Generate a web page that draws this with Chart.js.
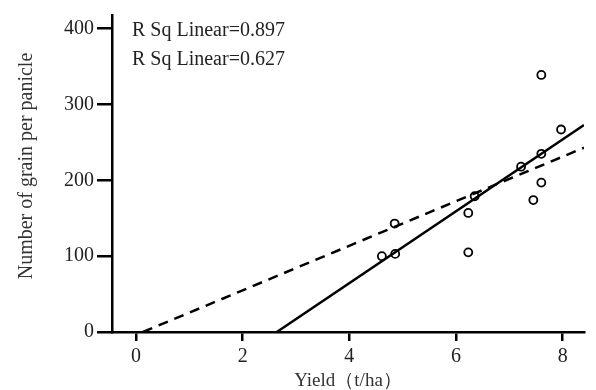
<!DOCTYPE html>
<html>
<head>
<meta charset="utf-8">
<script src="https://cdn.jsdelivr.net/npm/chart.js@4.4.1/dist/chart.umd.min.js"></script>
<style>
    body { margin: 0; background: #fff; }
    #wrap { position: relative; width: 596px; height: 390px; }
</style>
</head>
<body>
<div id="wrap"><canvas id="chart"></canvas></div>
<script>
// observed points (yield t/ha, grains per panicle)
const yieldValues = [4.61, 4.86, 4.85, 6.23, 6.23, 6.35, 7.22, 7.45, 7.6, 7.6, 7.97, 7.6];
const grainValues = [100, 103, 143, 105, 157, 179, 218, 174, 197, 235, 267, 339];

// fitted lines, end points
const solidFitX = [2.64, 8.4];
const solidFitY = [0, 273];
const dashedFitX = [0.13, 8.4];
const dashedFitY = [0, 243];

const rSqLabels = ['R Sq Linear=0.897', 'R Sq Linear=0.627'];
const xTitle = 'Yield（t/ha）';
const yTitle = 'Number of grain per panicle';

const serif = '"Liberation Serif", "Times New Roman", "DejaVu Serif", serif';

const toPoints = (xs, ys) => xs.map((x, i) => ({ x: x, y: ys[i] }));

const textPlugin = {
    id: 'textPlugin',
    afterDraw(chart) {
        const ctx = chart.ctx;
        const area = chart.chartArea;
        ctx.save();
        ctx.fillStyle = '#222';
        ctx.font = '20px ' + serif;
        ctx.textAlign = 'left';
        ctx.textBaseline = 'alphabetic';
        ctx.fillText(rSqLabels[0], 132, 36);
        ctx.fillText(rSqLabels[1], 132, 65);

        ctx.fillStyle = '#333';
        ctx.font = '19px ' + serif;
        ctx.textAlign = 'center';
        ctx.fillText(xTitle, (area.left + area.right) / 2, 386);

        ctx.font = '20px ' + serif;
        ctx.translate(32, 166);
        ctx.rotate(-Math.PI / 2);
        ctx.fillText(yTitle, 0, 0);
        ctx.restore();
    }
};

new Chart(document.getElementById('chart'), {
    type: 'scatter',
    data: {
        datasets: [
            {
                label: 'observed',
                data: toPoints(yieldValues, grainValues),
                pointStyle: 'circle',
                pointRadius: 4,
                pointBorderWidth: 1.8,
                pointBorderColor: '#000',
                pointBackgroundColor: 'rgba(0,0,0,0)'
            },
            {
                label: 'fit1',
                data: toPoints(solidFitX, solidFitY),
                showLine: true,
                borderColor: '#000',
                borderWidth: 2.5,
                pointRadius: 0
            },
            {
                label: 'fit2',
                data: toPoints(dashedFitX, dashedFitY),
                showLine: true,
                borderColor: '#000',
                borderWidth: 2.5,
                borderDash: [10, 7],
                pointRadius: 0
            }
        ]
    },
    options: {
        responsive: true,
        maintainAspectRatio: false,
        animation: false,
        layout: { padding: { top: 10, right: 12, left: 0, bottom: 0 } },
        plugins: {
            legend: { display: false },
            tooltip: { enabled: false }
        },
        scales: {
            x: {
                type: 'linear',
                min: -0.45,
                max: 8.4,
                afterFit: s => { s.height = 58; },
                border: { display: true, color: '#000', width: 2.5 },
                grid: { drawOnChartArea: false, drawTicks: true, tickLength: 9, color: '#000', lineWidth: 2.5 },
                ticks: {
                    stepSize: 2,
                    includeBounds: false,
                    color: '#222',
                    padding: 4,
                    maxRotation: 0,
                    font: { family: serif, size: 20 }
                }
            },
            y: {
                type: 'linear',
                min: 0,
                max: 418,
                afterFit: s => { s.width = 112; },
                border: { display: true, color: '#000', width: 2.5 },
                grid: { drawOnChartArea: false, drawTicks: true, tickLength: 15, color: '#000', lineWidth: 2.5 },
                ticks: {
                    stepSize: 100,
                    includeBounds: false,
                    color: '#222',
                    padding: 3,
                    font: { family: serif, size: 20 }
                }
            }
        }
    },
    plugins: [textPlugin]
});
</script>
</body>
</html>
